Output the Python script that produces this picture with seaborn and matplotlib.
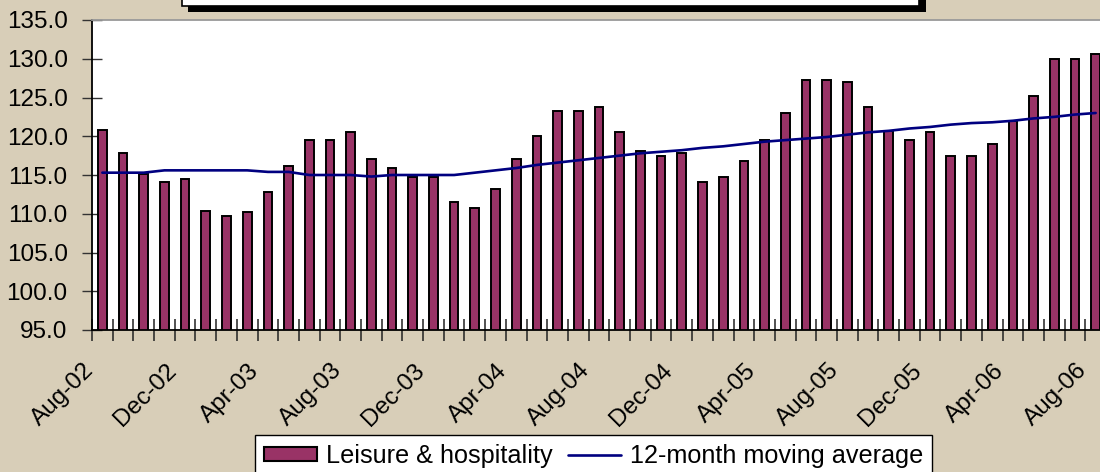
import numpy as np
import pandas as pd
import matplotlib
matplotlib.use("Agg")
import matplotlib.pyplot as plt
import matplotlib.transforms as mtransforms
import seaborn as sns
from matplotlib.patches import Rectangle
from matplotlib.lines import Line2D
from matplotlib.ticker import FixedLocator, FormatStrFormatter

# monthly index, Aug-02 .. Aug-06
months = pd.date_range("2002-08-01", "2006-08-01", freq="MS").strftime("%b-%y").tolist()
leisure = [120.8, 117.9, 115.1, 114.1, 114.5, 110.4, 109.7, 110.2, 112.8, 116.1,
           119.5, 119.5, 120.5, 117.1, 115.9, 114.8, 114.8, 111.5, 110.7, 113.2,
           117.1, 120.0, 123.3, 123.3, 123.8, 120.5, 118.1, 117.4, 117.9, 114.1,
           114.8, 116.8, 119.5, 123.0, 127.2, 127.2, 127.0, 123.8, 120.7, 119.5,
           120.5, 117.4, 117.4, 119.0, 122.0, 125.2, 130.0, 130.0, 130.6]
moving_avg = [115.3, 115.3, 115.3, 115.6, 115.6, 115.6, 115.6, 115.6, 115.4, 115.4,
              115.0, 115.0, 115.0, 114.8, 115.0, 115.0, 115.0, 115.0, 115.3, 115.6,
              115.9, 116.3, 116.6, 116.9, 117.2, 117.5, 117.8, 118.0, 118.2, 118.5,
              118.7, 119.0, 119.3, 119.5, 119.7, 119.9, 120.2, 120.5, 120.7, 121.0,
              121.2, 121.5, 121.7, 121.8, 122.0, 122.3, 122.5, 122.8, 123.0]

df = pd.DataFrame({"month": months, "leisure": leisure, "avg": moving_avg})
df["pos"] = np.arange(len(df))

bar_color = "#993366"
line_color = "#000080"
bg = "#d8ceb8"

sns.set_style("white")
plt.rcParams["font.family"] = ["Liberation Sans", "DejaVu Sans"]
plt.rcParams["text.color"] = "black"
plt.rcParams["xtick.labelcolor"] = "black"
plt.rcParams["ytick.labelcolor"] = "black"

fig = plt.figure(figsize=(11, 4.72), dpi=100, facecolor=bg)
ax = fig.add_axes([92/1100, 142/472, 1014/1100, 310/472])
ax.set_facecolor("white")

sns.barplot(data=df, x="month", y="leisure", color=bar_color, saturation=1,
            width=0.42, edgecolor="black", linewidth=1.4, ax=ax)
sns.lineplot(data=df, x="pos", y="avg", color=line_color, linewidth=1.9, ax=ax)

ax.set_xlim(-0.5, len(df) - 0.5)
ax.set_ylim(95, 135)
ax.set_xlabel("")
ax.set_ylabel("")

# y axis
ax.set_yticks(np.arange(95, 136, 5))
ax.yaxis.set_major_formatter(FormatStrFormatter("%.1f"))
ax.tick_params(axis="y", direction="inout", length=15, width=1, color="#333333",
               labelsize=17.5, labelcolor="black", pad=10, left=True)

# x axis: labels every 4 months, tick marks between categories
lab_pos = df["pos"][::4].tolist()
ax.set_xticks(lab_pos)
ax.set_xticklabels(df["month"][::4], rotation=45, ha="right", rotation_mode="anchor",
                   fontsize=17.5, color="black")
ax.tick_params(axis="x", which="major", length=0, pad=14)
ax.xaxis.set_minor_locator(FixedLocator(np.arange(-0.5, len(df), 1)))
ax.tick_params(axis="x", which="minor", direction="inout", length=16, width=1.1,
               color="#222222", bottom=True)
shift = mtransforms.ScaledTranslation(-0.2, -0.1, fig.dpi_scale_trans)
for lbl in ax.get_xticklabels():
    lbl.set_transform(lbl.get_transform() + shift)

for s in ["left", "bottom"]:
    ax.spines[s].set_color("black")
    ax.spines[s].set_linewidth(1.3)
ax.spines["top"].set_color("#999999")
ax.spines["top"].set_linewidth(1.3)
ax.spines["right"].set_visible(False)

# title box (cut off at top)
fig.patches.append(Rectangle((188/1100, 1 - 12/472), 738/1100, 40/472,
                             transform=fig.transFigure, facecolor="black",
                             edgecolor="none", zorder=0))
fig.patches.append(Rectangle((182/1100, 1 - 6/472), 737/1100, 40/472,
                             transform=fig.transFigure, facecolor="white",
                             edgecolor="black", linewidth=1.2, zorder=1))

handles = [Rectangle((0, 0), 1, 1, facecolor=bar_color, edgecolor="black", linewidth=1.5),
           Line2D([0], [0], color=line_color, linewidth=1.9)]
leg = fig.legend(handles, ["Leisure & hospitality", "12-month moving average"],
                 loc="upper left", bbox_to_anchor=(255/1100, 1 - 435/472),
                 ncol=2, fontsize=18.2, frameon=True, fancybox=False, framealpha=1,
                 edgecolor="black", handlelength=2.1, handleheight=0.52,
                 handletextpad=0.36, columnspacing=0.6, borderpad=0.35,
                 borderaxespad=0, labelcolor="black")
leg.get_frame().set_linewidth(1.0)

fig.savefig("out.png", dpi=100, facecolor=bg)
